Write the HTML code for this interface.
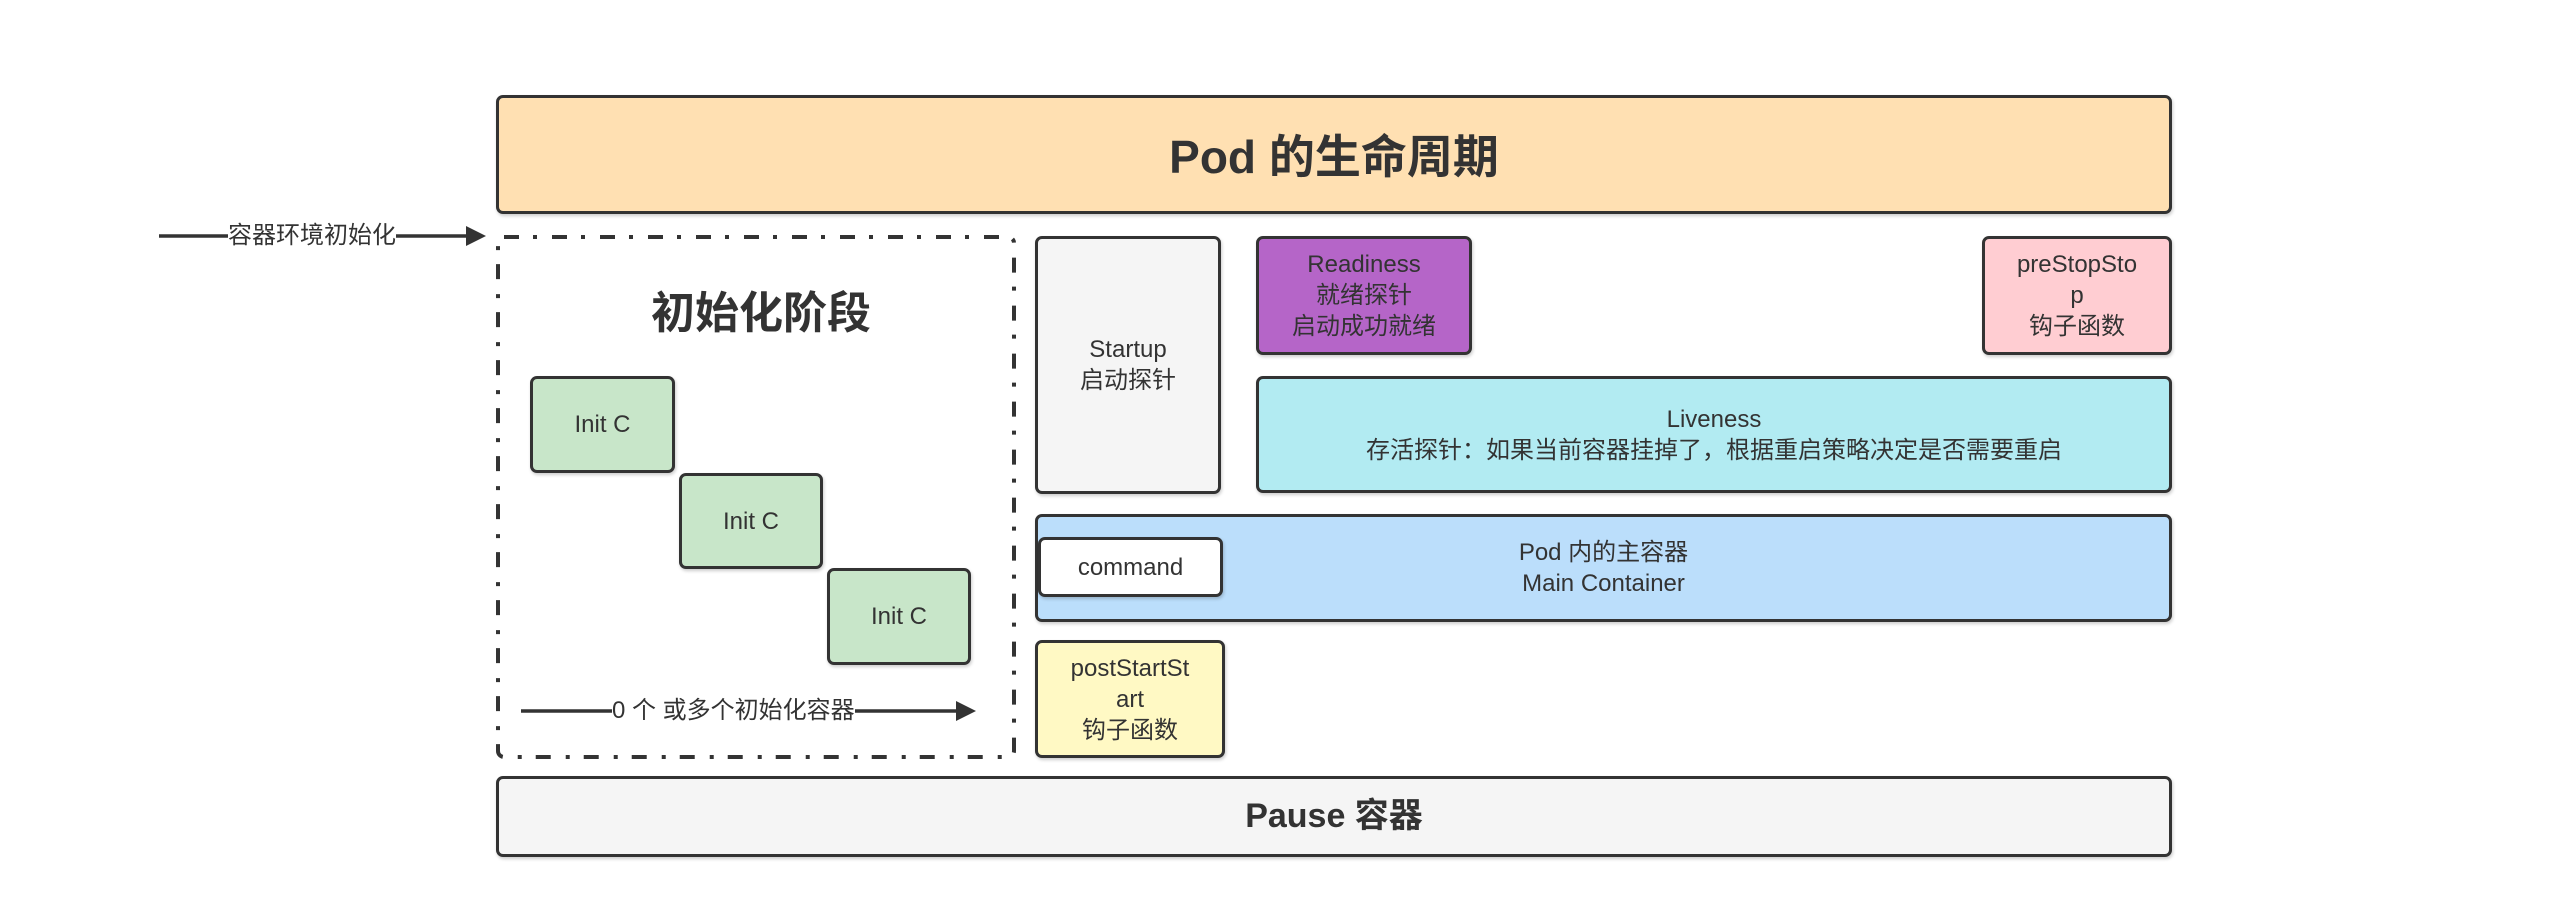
<!DOCTYPE html>
<html><head><meta charset="utf-8">
<style>
body{margin:0;width:2552px;height:904px;background:#fff;position:relative;overflow:hidden;font-family:"Liberation Sans","Noto Sans CJK SC",sans-serif;color:#333;}
.b{position:absolute;box-sizing:border-box;border:3.5px solid #333;border-radius:7px;display:flex;align-items:center;justify-content:center;text-align:center;font-size:24px;line-height:31px;box-shadow:1px 2px 3px rgba(0,0,0,0.2);}
.t{position:absolute;font-size:24px;background:#fff;line-height:28px;}
</style></head><body>
<div class="b" style="left:496px;top:95px;width:1676px;height:119px;background:#FFE0B2;font-size:46px;font-weight:bold;padding-top:6px;">Pod 的生命周期</div>

<svg style="position:absolute;left:0;top:0" width="2552" height="904">
<rect x="498" y="237" width="516" height="520" rx="6" fill="none" stroke="#333" stroke-width="4" stroke-dasharray="15 14 4 15"/>
<line x1="159" y1="236" x2="468" y2="236" stroke="#333" stroke-width="3.5"/>
<polygon points="466,226 486,236 466,246" fill="#333"/>
<line x1="521" y1="711" x2="958" y2="711" stroke="#333" stroke-width="3.5"/>
<polygon points="956,701 976,711 956,721" fill="#333"/>
</svg>
<div class="t" style="left:228px;top:222px;">容器环境初始化</div>
<div class="t" style="left:612px;top:697px;">0 个 或多个初始化容器</div>
<div style="position:absolute;left:600px;top:288px;width:322px;text-align:center;font-size:44px;font-weight:bold;line-height:52px;">初始化阶段</div>

<div class="b" style="left:530px;top:376px;width:145px;height:97px;background:#C8E6C9;">Init C</div>
<div class="b" style="left:679px;top:473px;width:144px;height:96px;background:#C8E6C9;">Init C</div>
<div class="b" style="left:827px;top:568px;width:144px;height:97px;background:#C8E6C9;">Init C</div>

<div class="b" style="left:1035px;top:236px;width:186px;height:258px;background:#F5F5F5;">Startup<br>启动探针</div>
<div class="b" style="left:1256px;top:236px;width:216px;height:119px;background:#B565C8;">Readiness<br>就绪探针<br>启动成功就绪</div>
<div class="b" style="left:1982px;top:236px;width:190px;height:119px;background:#FFCDD2;">preStopSto<br>p<br>钩子函数</div>
<div class="b" style="left:1256px;top:376px;width:916px;height:117px;background:#B2EBF2;">Liveness<br>存活探针：如果当前容器挂掉了，根据重启策略决定是否需要重启</div>
<div class="b" style="left:1035px;top:514px;width:1137px;height:108px;background:#BBDEFB;">Pod 内的主容器<br>Main Container</div>
<div class="b" style="left:1038px;top:537px;width:185px;height:60px;background:#fff;">command</div>
<div class="b" style="left:1035px;top:640px;width:190px;height:118px;background:#FFF9C4;">postStartSt<br>art<br>钩子函数</div>
<div class="b" style="left:496px;top:776px;width:1676px;height:81px;background:#F5F5F5;font-size:34px;font-weight:bold;">Pause 容器</div>
</body></html>
